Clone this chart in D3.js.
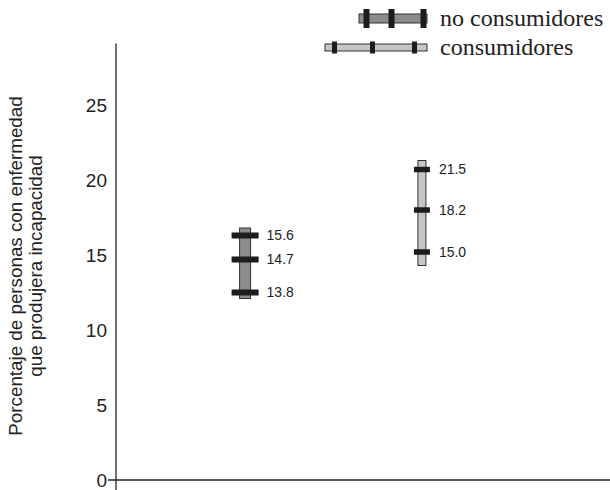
<!DOCTYPE html>
<html>

<head>
  <script src="https://d3js.org/d3.v7.min.js"></script>
  <style>
    body {
      margin: 0;
      background: #fff;
    }

    text {
      font-family: "Liberation Sans", Arial, sans-serif;
    }
  </style>
</head>

<body>
  <script>
    // datos
    const categories = ["no consumidores", "consumidores"];
    // valores rotulados en cada barra
    const noConsumidores = [15.6, 14.7, 13.8];
    const consumidores = [21.5, 18.2, 15.0];
    // altura a la que la figura dibuja cada marca (leida sobre el eje)
    const noConsumidoresPos = [16.3, 14.7, 12.5];
    const consumidoresPos = [20.7, 18.0, 15.2];
    // extremos de cada barra (leidos sobre el eje)
    const noConsumidoresRango = [12.1, 16.8];
    const consumidoresRango = [14.3, 21.3];
    const yTicks = [0, 5, 10, 15, 20, 25];

    const width = 610;
    const height = 490;

    const svg = d3.select("body")
      .append("svg")
      .attr("width", width)
      .attr("height", height);

    const y = d3.scaleLinear()
      .domain([0, 29.1])
      .range([480, 43.5]);

    const x = d3.scalePoint()
      .domain(categories)
      .range([116, 551])
      .padding(0.73);

    // estilo de cada serie
    const styles = {
      "no consumidores": { fill: "#8c8c8c", barW: 11, markW: 27, markH: 6, gap: 8 },
      "consumidores": { fill: "#c6c6c6", barW: 8, markW: 16, markH: 5.5, gap: 9 }
    };

    // eje y
    const yAxis = svg.append("g")
      .attr("transform", "translate(116,0)")
      .call(d3.axisLeft(y).tickValues(yTicks).tickSize(0).tickPadding(9));
    yAxis.select(".domain").remove();
    yAxis.selectAll("text")
      .style("font-size", "19px")
      .attr("fill", "#222");

    svg.append("line")
      .attr("x1", 116).attr("x2", 116)
      .attr("y1", y.range()[1]).attr("y2", 490)
      .attr("stroke", "#222").attr("stroke-width", 1.3);

    svg.append("line")
      .attr("x1", 108).attr("x2", width)
      .attr("y1", y(0)).attr("y2", y(0))
      .attr("stroke", "#222").attr("stroke-width", 1.3);

    // titulo eje y
    const title = svg.append("text")
      .attr("transform", "translate(22," + 266 + ") rotate(-90)")
      .attr("text-anchor", "middle")
      .style("font-size", "18.8px")
      .attr("fill", "#222");
    title.append("tspan").attr("x", 0).attr("dy", 0).text("Porcentaje de personas con enfermedad");
    title.append("tspan").attr("x", 0).attr("dy", 20).text("que  produjera incapacidad");

    // barras con marcas
    const series = [
      { name: categories[0], values: noConsumidores, pos: noConsumidoresPos, range: noConsumidoresRango },
      { name: categories[1], values: consumidores, pos: consumidoresPos, range: consumidoresRango }
    ];

    const g = svg.selectAll(".serie")
      .data(series)
      .enter()
      .append("g")
      .attr("class", "serie");

    g.append("rect")
      .attr("x", d => x(d.name) - styles[d.name].barW / 2)
      .attr("y", d => y(d.range[1]))
      .attr("width", d => styles[d.name].barW)
      .attr("height", d => y(d.range[0]) - y(d.range[1]))
      .attr("fill", d => styles[d.name].fill)
      .attr("stroke", "#333")
      .attr("stroke-width", 1);

    const puntos = d => d.values.map((v, i) => ({ name: d.name, v: v, p: d.pos[i] }));

    g.selectAll(".marca")
      .data(puntos)
      .enter()
      .append("rect")
      .attr("class", "marca")
      .attr("x", d => x(d.name) - styles[d.name].markW / 2)
      .attr("y", d => y(d.p) - styles[d.name].markH / 2)
      .attr("width", d => styles[d.name].markW)
      .attr("height", d => styles[d.name].markH)
      .attr("fill", "#1c1c1c");

    g.selectAll(".etiqueta")
      .data(puntos)
      .enter()
      .append("text")
      .attr("class", "etiqueta")
      .attr("x", d => x(d.name) + styles[d.name].markW / 2 + styles[d.name].gap)
      .attr("y", d => y(d.p))
      .attr("dy", "0.35em")
      .style("font-size", "14px")
      .attr("fill", "#222")
      .text(d => d3.format(".1f")(d.v));

    // leyenda
    const legend = [
      { name: categories[0], x0: 359, x1: 427, y: 18.5, h: 9, mw: 6, mh: 19, marks: [366.5, 391.5, 423.5] },
      { name: categories[1], x0: 325, x1: 427, y: 47.5, h: 7, mw: 5, mh: 12, marks: [334.5, 372.5, 414.5] }
    ];
    const lg = svg.selectAll(".leyenda")
      .data(legend)
      .enter()
      .append("g")
      .attr("class", "leyenda");

    lg.append("rect")
      .attr("x", d => d.x0)
      .attr("y", d => d.y - d.h / 2)
      .attr("width", d => d.x1 - d.x0)
      .attr("height", d => d.h)
      .attr("fill", d => styles[d.name].fill)
      .attr("stroke", "#333")
      .attr("stroke-width", 1);

    lg.selectAll(".lm")
      .data(d => d.marks.map(m => ({ m: m, d: d })))
      .enter()
      .append("rect")
      .attr("x", e => e.m - e.d.mw / 2)
      .attr("y", e => e.d.y - e.d.mh / 2)
      .attr("width", e => e.d.mw)
      .attr("height", e => e.d.mh)
      .attr("fill", "#1c1c1c");

    lg.append("text")
      .attr("x", 440)
      .attr("y", d => d.y + 7)
      .style("font-family", "'Liberation Serif', 'Times New Roman', serif")
      .style("font-size", "24px")
      .attr("fill", "#222")
      .text(d => d.name);
  </script>
</body>

</html>
